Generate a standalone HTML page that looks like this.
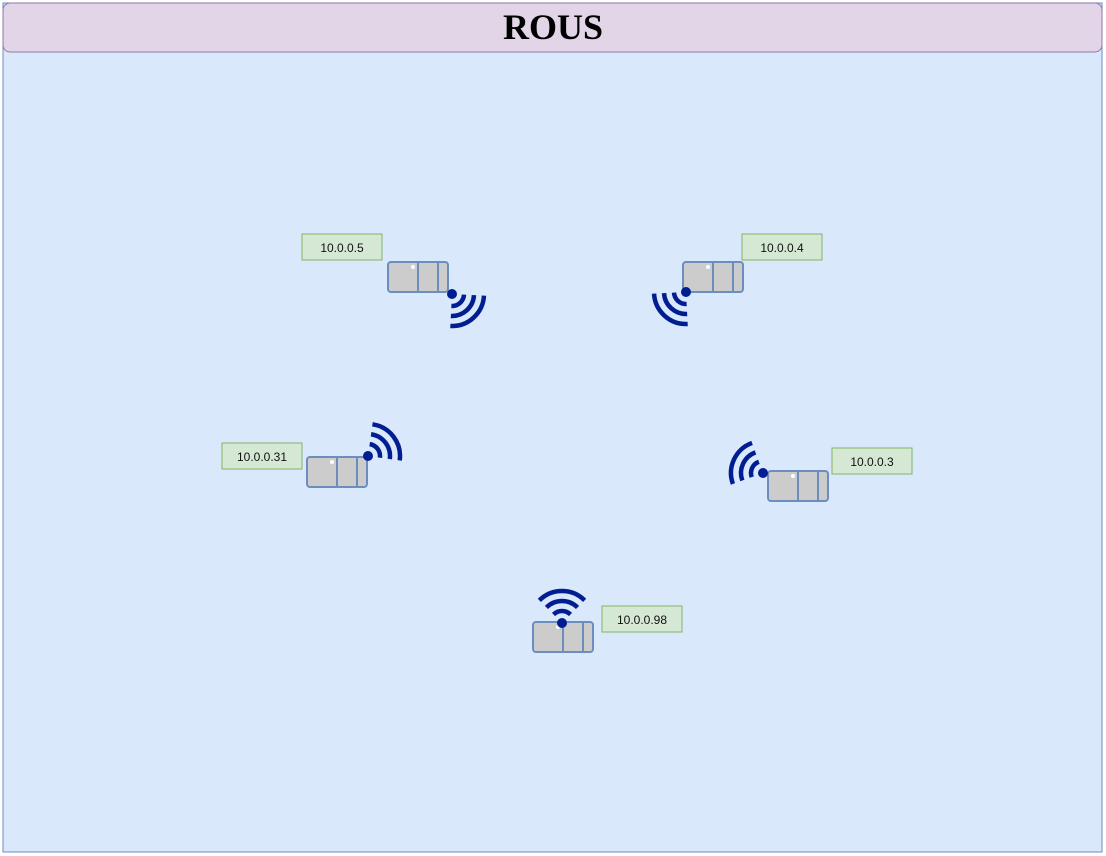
<!DOCTYPE html>
<html><head><meta charset="utf-8"><style>
html,body{margin:0;padding:0;background:#fff;width:1106px;height:856px;overflow:hidden}
</style></head><body>
<svg id="s" width="1106" height="856" xmlns="http://www.w3.org/2000/svg" font-family="Liberation Sans, sans-serif">
<rect x="3" y="3" width="1099" height="849" fill="#dae8fc" stroke="#6c8ebf" stroke-width="1"/>
<rect x="3" y="3" width="1099" height="49" rx="7" fill="#e1d5e7" stroke="#9673a6" stroke-width="1"/>
<text x="553" y="39" text-anchor="middle" font-family="Liberation Serif, serif" font-weight="bold" font-size="36">ROUS</text>
<g id="labels" font-size="12" text-anchor="middle" fill="#111">
<rect x="302" y="234" width="80" height="26" fill="#d5e8d4" stroke="#82b366"/><text x="342" y="252">10.0.0.5</text>
<rect x="742" y="234" width="80" height="26" fill="#d5e8d4" stroke="#82b366"/><text x="782" y="252">10.0.0.4</text>
<rect x="222" y="443" width="80" height="26" fill="#d5e8d4" stroke="#82b366"/><text x="262" y="461">10.0.0.31</text>
<rect x="832" y="448" width="80" height="26" fill="#d5e8d4" stroke="#82b366"/><text x="872" y="466">10.0.0.3</text>
<rect x="602" y="606" width="80" height="26" fill="#d5e8d4" stroke="#82b366"/><text x="642" y="624">10.0.0.98</text>
</g>
<g id="dev"></g>
</svg>
<script>
var g=document.getElementById('dev'),h='';
function dev(x,y){h+='<rect x="'+x+'" y="'+y+'" width="60" height="30" rx="3" fill="#cccccc" stroke="#6c8ebf" stroke-width="2"/>'+
'<line x1="'+(x+30)+'" y1="'+y+'" x2="'+(x+30)+'" y2="'+(y+30)+'" stroke="#6c8ebf" stroke-width="2"/>'+
'<line x1="'+(x+50)+'" y1="'+y+'" x2="'+(x+50)+'" y2="'+(y+30)+'" stroke="#6c8ebf" stroke-width="2"/>'+
'<circle cx="'+(x+25)+'" cy="'+(y+5)+'" r="2" fill="#fff"/>';}
function wifi(cx,cy,a){h+='<circle cx="'+cx+'" cy="'+cy+'" r="5" fill="#001d91"/>';
[12,22,32].forEach(function(r){var a1=(a-45)*Math.PI/180,a2=(a+45)*Math.PI/180;
h+='<path d="M'+(cx+r*Math.cos(a1))+' '+(cy+r*Math.sin(a1))+' A'+r+' '+r+' 0 0 1 '+(cx+r*Math.cos(a2))+' '+(cy+r*Math.sin(a2))+'" fill="none" stroke="#001d91" stroke-width="4.5"/>';});}
dev(388,262);wifi(452,294,48);
dev(683,262);wifi(686,292,132);
dev(307,457);wifi(368,456,-37);
dev(768,471);wifi(763,473,205);
dev(533,622);wifi(562,623,-90);
g.innerHTML=h;
</script>
</body></html>
